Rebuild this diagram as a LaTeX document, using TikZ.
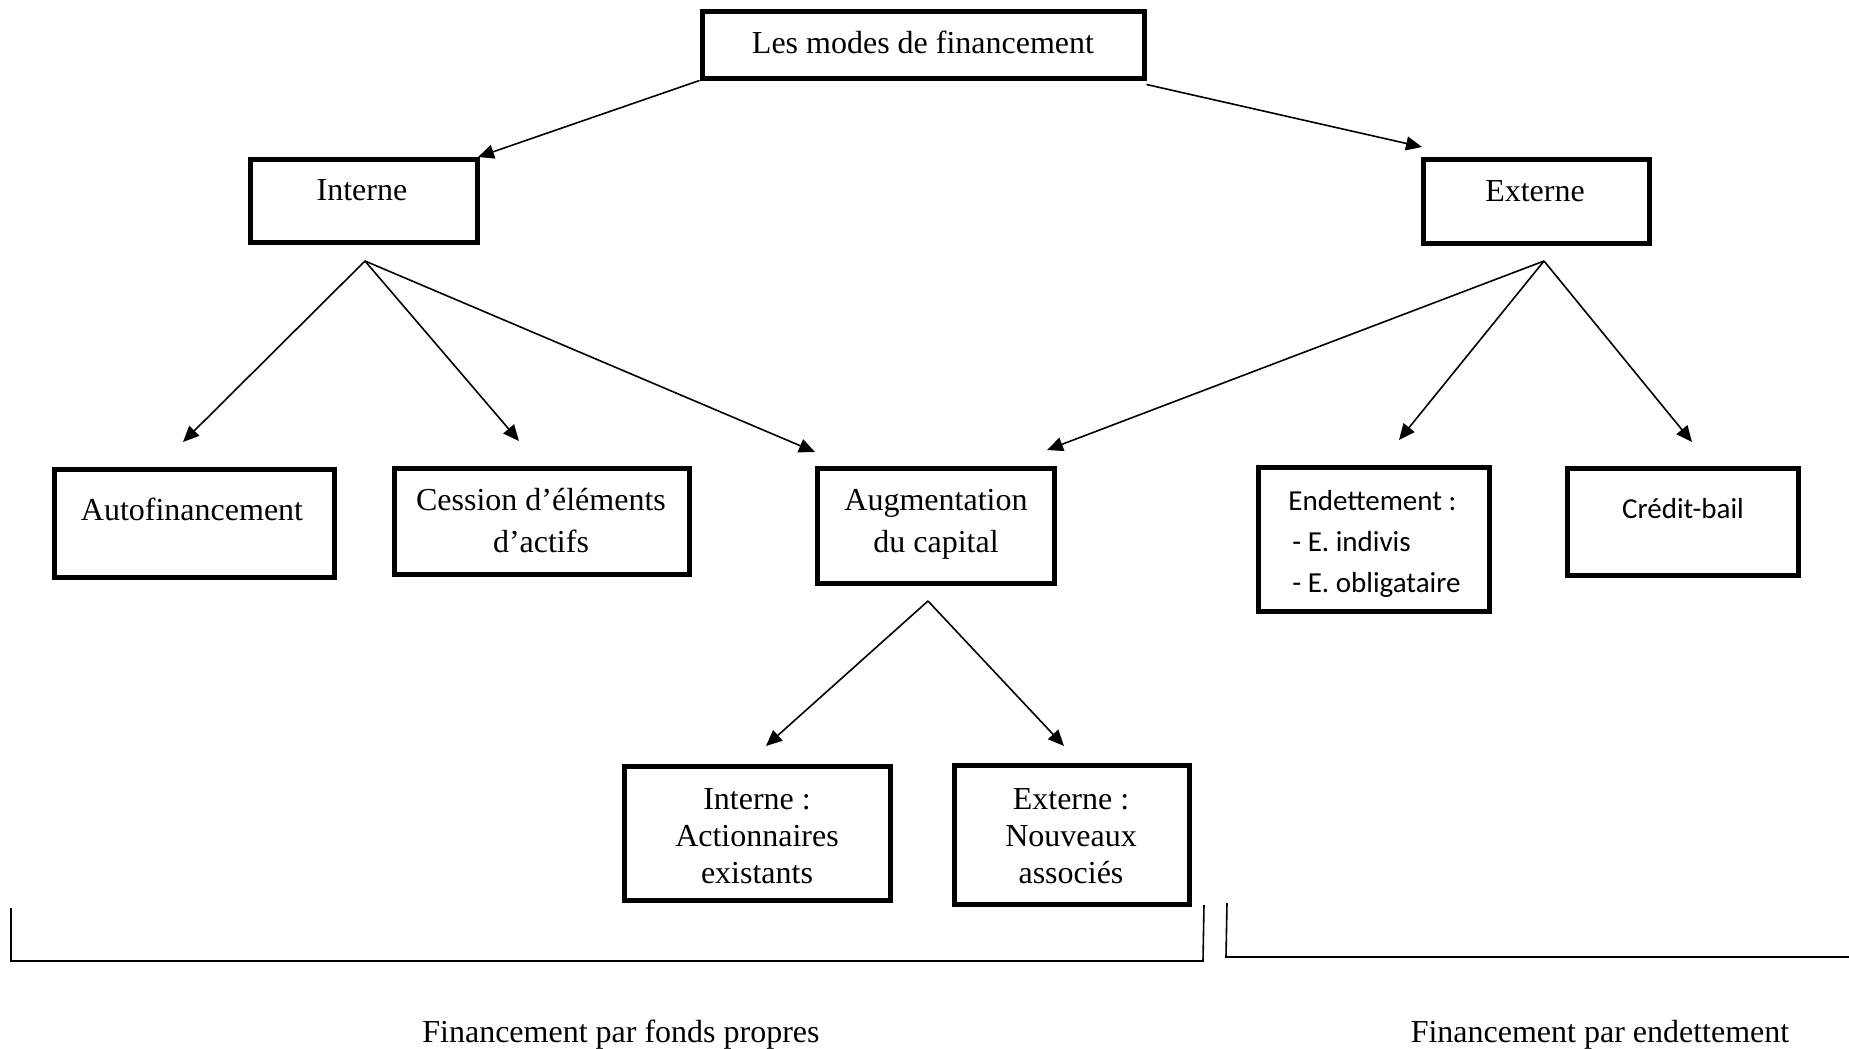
\documentclass[tikz,border=0pt]{standalone}
\usepackage{fontspec}
\setmainfont{Liberation Serif}
\newfontfamily\calib{Carlito}
\usetikzlibrary{arrows.meta}
\tikzset{
  box/.style={draw, line width=2.5pt, rectangle, inner sep=0pt},
  txt/.style={inner sep=0pt, align=center, font=\fontsize{16}{18.5}\selectfont},
  txttwo/.style={inner sep=0pt, align=center, font=\fontsize{16}{21}\selectfont},
  cal/.style={inner sep=0pt, font=\calib\fontsize{14.5}{20.5}\selectfont},
  conn/.style={line width=0.8pt, -{Triangle[length=8pt,width=7pt]}},
  brack/.style={line width=0.8pt}
}
\begin{document}
\begin{tikzpicture}[x=0.5pt,y=-0.5pt]
\useasboundingbox (0,0) rectangle (1849,1049);
% boxes
\node[box, minimum width=221pt, minimum height=33.5pt] (top) at (923,44.5) {};
\node[txt] (toptxt) at (923,42) {Les modes de financement};
\node[box, minimum width=113.5pt, minimum height=41.5pt] (interne) at (363.5,200.5) {};
\node[txt] (internetxt) at (362,190) {Interne};
\node[box, minimum width=113pt, minimum height=42pt] (externe) at (1536,201) {};
\node[txt] (externetxt) at (1535,191) {Externe};
\node[box, minimum width=140pt, minimum height=54pt] (autof) at (194,523) {};
\node[txt] (autoftxt) at (192,509) {Autofinancement};
\node[box, minimum width=147.5pt, minimum height=53pt] (cession) at (541.5,521) {};
\node[txttwo] (cessiontxt) at (541,521) {Cession d’éléments\\d’actifs};
\node[box, minimum width=118.5pt, minimum height=57.5pt] (augm) at (935.5,525.5) {};
\node[txttwo] (augmtxt) at (936,524) {Augmentation\\du capital};
\node[box, minimum width=115.5pt, minimum height=72pt] (endet) at (1373.5,539) {};
\node[cal, anchor=west, align=left] (endettxt) at (1288,544) {Endettement :\\\hspace{2pt}- E. indivis\\\hspace{2pt}- E. obligataire};
\node[box, minimum width=115.5pt, minimum height=53.5pt] (credit) at (1682.5,521.5) {};
\node[cal] (credittxt) at (1683,509) {Crédit-bail};
\node[box, minimum width=133pt, minimum height=67pt] (intact) at (757,833) {};
\node[txt] (intacttxt) at (757,836) {Interne :\\Actionnaires\\existants};
\node[box, minimum width=117.5pt, minimum height=69.5pt] (extnouv) at (1071.5,834.5) {};
\node[txt] (extnouvtxt) at (1071,836) {Externe :\\Nouveaux\\associés};
% connector points
\coordinate (iorig) at (365,261);
\coordinate (eorig) at (1544,261);
\coordinate (aorig) at (928,601);
\coordinate (t1) at (478,157);
\coordinate (t2) at (1422,147);
\coordinate (i1) at (183,442);
\coordinate (i2) at (519,441);
\coordinate (i3) at (815,452);
\coordinate (e1) at (1047,450);
\coordinate (e2) at (1399,440);
\coordinate (e3) at (1692,442);
\coordinate (a1) at (766,746);
\coordinate (a2) at (1064,746);
% connectors
\draw[conn] (top.south west) -- (t1);
\draw[conn] ([yshift=-2pt]top.south east) -- (t2);
\draw[conn] (iorig) -- (i1);
\draw[conn] (iorig) -- (i2);
\draw[conn] (iorig) -- (i3);
\draw[conn] (eorig) -- (e1);
\draw[conn] (eorig) -- (e2);
\draw[conn] (eorig) -- (e3);
\draw[conn] (aorig) -- (a1);
\draw[conn] (aorig) -- (a2);
% brackets
\draw[brack] (11,908) -- (11,961) -- (1203,961) -- (1204,905);
\draw[brack] (1227,903) -- (1226,957) -- (1849,957);
\node[txt] (fp) at (621,1035) {Financement par fonds propres};
\node[txt] (fe) at (1600,1035) {Financement par endettement};
\end{tikzpicture}
\end{document}
